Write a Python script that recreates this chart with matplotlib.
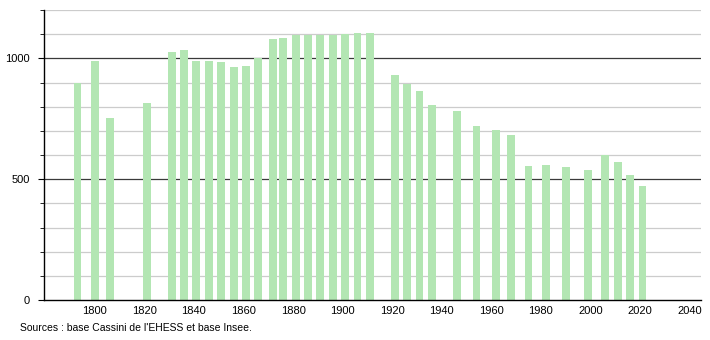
import numpy as np
import matplotlib.pyplot as plt

plt.rcParams['font.family'] = ['Liberation Sans', 'DejaVu Sans']

# Années de recensement et population
annees = [1793, 1800, 1806, 1821, 1831, 1836, 1841, 1846, 1851, 1856, 1861,
          1866, 1872, 1876, 1881, 1886, 1891, 1896, 1901, 1906, 1911, 1921,
          1926, 1931, 1936, 1946, 1954, 1962, 1968, 1975, 1982, 1990, 1999,
          2006, 2011, 2016, 2021]
population = [898, 990, 755, 815, 1025, 1033, 990, 988, 986, 966, 970,
              1002, 1080, 1086, 1095, 1095, 1095, 1095, 1101, 1106, 1106, 931,
              895, 863, 807, 782, 720, 704, 682, 555, 559, 550, 539,
              598, 572, 518, 472]

xticks = list(range(1800, 2041, 20))
yticks = [0, 500, 1000]

fig = plt.figure(figsize=(7.1, 3.4), dpi=100)
ax = fig.add_axes([0.062, 0.1176, 0.925, 0.853])

# Grille
for y in range(100, 1201, 100):
    if y in (500, 1000):
        ax.axhline(y, color='#3a3a3a', lw=0.9, zorder=0)
    else:
        ax.axhline(y, color='#cccccc', lw=0.9, zorder=0)

ax.bar(annees, population, width=3.2, color='#b3e6b3', zorder=2)

ax.set_xlim(1779.5, 2044.5)
ax.set_ylim(0, 1200)
ax.set_xticks(xticks)
ax.set_yticks(yticks)
ax.set_yticks(range(0, 1201, 100), minor=True)
ax.tick_params(axis='x', length=0, labelsize=8, pad=4)
ax.tick_params(axis='y', which='major', length=4, labelsize=8, pad=6)
ax.tick_params(axis='y', which='minor', length=3)

for s in ['top', 'right']:
    ax.spines[s].set_visible(False)
ax.spines['left'].set_linewidth(1)
ax.spines['bottom'].set_linewidth(1)

fig.text(0.028, 0.027, "Sources : base Cassini de l'EHESS et base Insee.", fontsize=7.5)

plt.savefig('out.png', dpi=100)
